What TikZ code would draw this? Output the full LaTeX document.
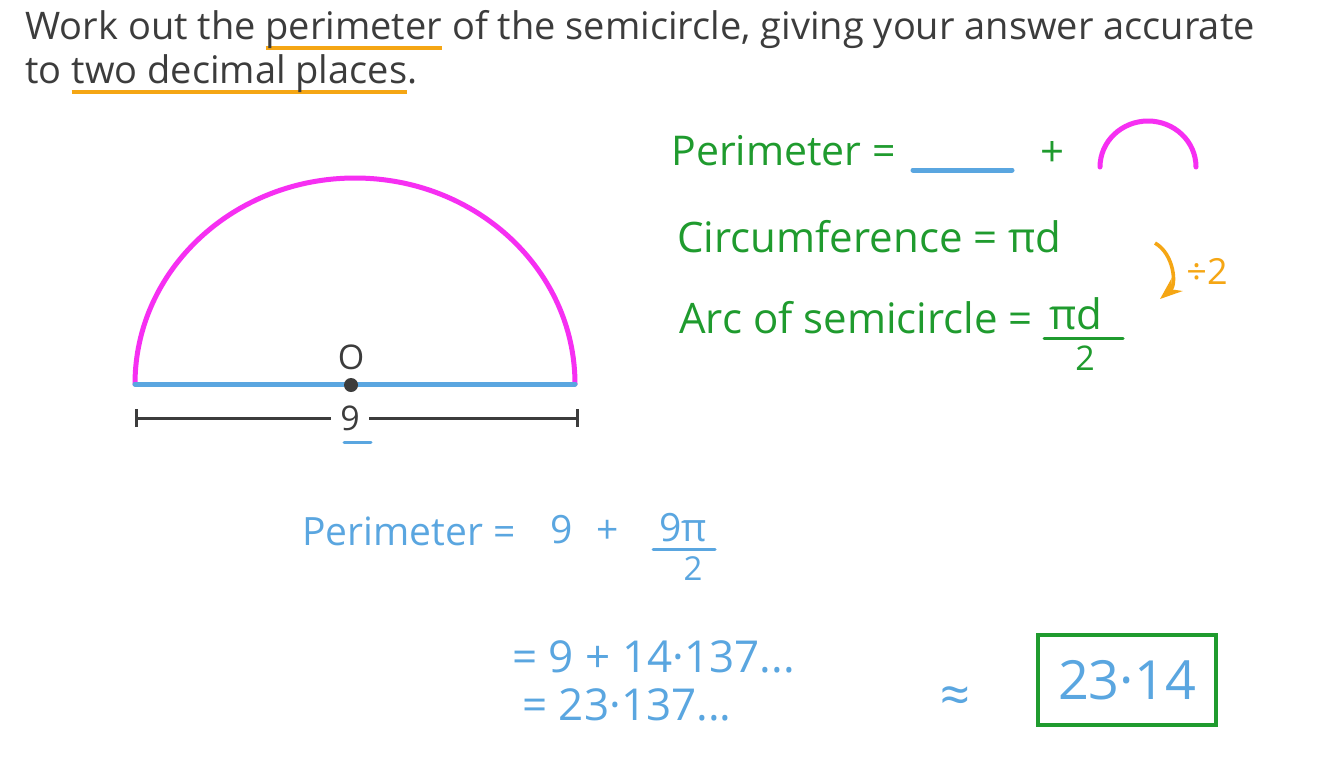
\documentclass[tikz,border=0pt]{standalone}
\usepackage{fontspec}
\setmainfont{Open Sans}
\usetikzlibrary{arrows.meta}
\definecolor{inkgray}{HTML}{3C3C3C}
\definecolor{hlorange}{HTML}{F5A614}
\definecolor{penmag}{HTML}{F62FF2}
\definecolor{penblue}{HTML}{5AA6E0}
\definecolor{pengreen}{HTML}{1F9B2E}
% orange underline under a word
\newcommand\hlul[1]{\setbox0\hbox{#1}\rlap{\textcolor{hlorange}{\rule[-5.5pt]{\wd0}{2pt}}}\box0\relax}
\tikzset{>=Stealth,
  head/.style={anchor=base west, inner sep=0pt, text=inkgray, font=\fontsize{19}{22}\selectfont},
  grn/.style={anchor=base west, inner sep=0pt, text=pengreen, font=\fontsize{21}{25}\selectfont},
  blu/.style={anchor=base west, inner sep=0pt, text=penblue, font=\fontsize{19.5}{23}\selectfont},
  pen/.style={line width=2.5pt, line cap=round},
  frac/.style={line width=1.5pt, line cap=round}}

\begin{document}
\begin{tikzpicture}[x=0.5pt, y=-0.5pt]
    \useasboundingbox[fill=white] (0,0) rectangle (1344,756);
    % question
    \node[head] (q1) at (25,39) {Work out the \hlul{perimeter} of the semicircle, giving your answer accurate};
    \node[head] (q2) at (25,83) {to \hlul{two decimal places}.};

    % semicircle
    \coordinate (dl) at (135,384);
    \coordinate (dr) at (575,384);
    \draw[pen, penmag] (dl) arc[start angle=180, end angle=360, x radius=220, y radius=206];
    \draw[pen, penblue] (dl) -- (dr);
    \node[circle, fill=inkgray, inner sep=0pt, minimum size=7pt] (ctr) at (351,385) {};
    \node[head, anchor=center, font=\fontsize{17}{20}\selectfont] (olab) at (351,357) {O};

    % diameter
    \coordinate (ml) at (135,418);
    \coordinate (mr) at (579,418);
    \node[head, anchor=center, inner xsep=4.5pt, font=\fontsize{17}{20}\selectfont] (nine) at (350,418) {9};
    \draw[line width=1.5pt, inkgray, {Bar[width=9pt]}-] (ml) -- (nine);
    \draw[line width=1.5pt, inkgray, -{Bar[width=9pt]}] (nine) -- (mr);
    \draw[frac, penblue] (344,442) -- (371,442);

    % formulas
    \node[grn, font=\fontsize{20.5}{25}\selectfont] (per) at (671,165) {Perimeter =};
    \draw[pen, penblue] (913,170) -- (1012,170);
    \node[grn, anchor=center] (plus) at (1052,154) {+};
    \draw[pen, penmag] (1100,167) arc[start angle=180, end angle=360, x radius=48, y radius=46];
    \node[grn] (circ) at (677,252) {Circumference = πd};
    \node[grn] (arcs) at (679,333) {Arc of semicircle =};
    \node[grn, anchor=base] (pid) at (1076,329) {πd};
    \draw[frac, pengreen] (1044,338) -- (1123,338);
    \node[grn, anchor=base, font=\fontsize{17}{19}\selectfont] (two) at (1085,370) {2};
    \coordinate (ar1) at (1155,243);
    \coordinate (ar2) at (1160,299);
    \draw[->, line width=1.8pt, hlorange] (ar1) to[bend left=55] (ar2);
    \node[grn, anchor=west, text=hlorange, font=\fontsize{18}{20}\selectfont] (div) at (1186,271) {÷2};

    % working
    \node[blu] (per2) at (302,545) {Perimeter =};
    \node[blu, anchor=base] (n9) at (562,543) {9};
    \node[blu, anchor=center] (pl2) at (608,532) {+};
    \node[blu, anchor=base] (num) at (683,541) {9π};
    \draw[frac, penblue] (653,549) -- (715,549);
    \node[blu, anchor=base, font=\fontsize{16.5}{18}\selectfont] (den) at (693,580) {2};
    \node[blu, font=\fontsize{22}{25}\selectfont] (st1) at (512,672) {= 9 + 14·137...};
    \node[blu, font=\fontsize{22}{25}\selectfont] (st2) at (522,720) {= 23·137...};
    \node[blu, anchor=center, font=\fontsize{26}{28}\selectfont] (apx) at (955,700) {≈};
    \node[blu, anchor=center, draw=pengreen, line width=2pt, minimum width=89pt, minimum height=45pt,
          font=\fontsize{27}{30}\selectfont] (ans) at (1127,680) {23·14};
\end{tikzpicture}
\end{document}
